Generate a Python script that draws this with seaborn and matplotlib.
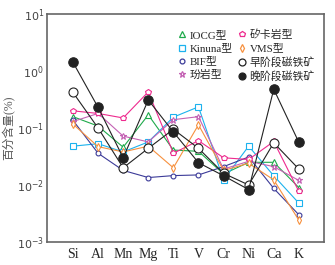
import numpy as np
import pandas as pd
import matplotlib
matplotlib.use("Agg")
import matplotlib.pyplot as plt
from matplotlib.lines import Line2D
import seaborn as sns

# element order on the x axis
elements = ["Si", "Al", "Mn", "Mg", "Ti", "V", "Cr", "Ni", "Ca", "K"]

# contents (%)
iocg = [0.158, 0.108, 0.046, 0.17, 0.041, 0.039, 0.0156, 0.025, 0.025, 0.0090]
kinuna = [0.048, 0.053, 0.038, 0.057, 0.155, 0.235, 0.0123, 0.048, 0.0145, 0.0048]
bif = [0.136, 0.036, 0.018, 0.0135, 0.0146, 0.015, 0.021, 0.031, 0.0087, 0.0030]
porphyrite = [0.13, 0.18, 0.072, 0.057, 0.14, 0.158, 0.019, 0.026, 0.021, 0.012]
skarn = [0.20, 0.18, 0.15, 0.43, 0.036, 0.060, 0.030, 0.028, 0.058, 0.0077]
vms = [0.117, 0.047, 0.038, 0.048, 0.020, 0.114, 0.018, 0.024, 0.0123, 0.0024]
early = [0.42, 0.10, 0.020, 0.044, 0.095, 0.044, 0.016, 0.010, 0.055, 0.019]
late = [1.42, 0.23, 0.030, 0.31, 0.085, 0.0246, 0.0145, 0.0083, 0.48, 0.056]

names = ["IOCG型", "Kinuna型", "BIF型", "玢岩型", "矽卡岩型", "VMS型", "早阶段磁铁矿", "晚阶段磁铁矿"]
values = [iocg, kinuna, bif, porphyrite, skarn, vms, early, late]
colors = ["#1faa4b", "#1cb2ee", "#3b3a98", "#c462b4", "#ee2a8e", "#f7913f", "#222222", "#222222"]
markers = ["^", "s", "o", "*", "p", "d", "o", "o"]
msizes = [4, 3.8, 3.5, 5, 4, 4, 6.5, 6.8]
filled = [False] * 7 + [True]

sns.set_style("white")
plt.rcParams["font.family"] = ["Liberation Serif", "Noto Sans CJK SC"]
plt.rcParams["axes.unicode_minus"] = False

fig = plt.figure(figsize=(3.35, 2.65), dpi=100)
ax = fig.add_axes([0.140, 0.087, 0.827, 0.860])

x = np.arange(len(elements))
for name, vals, c, m, ms, f in zip(names, values, colors, markers, msizes, filled):
    df = pd.DataFrame({"x": x, "y": vals})
    sns.lineplot(data=df, x="x", y="y", ax=ax, color=c, lw=0.8, sort=False,
                 marker=m, markersize=ms, markeredgecolor=c,
                 markerfacecolor=c if f else "white", markeredgewidth=0.8,
                 legend=False)

ax.set_yscale("log")
ax.set_ylim(1e-3, 10)
ax.set_xlim(-1.04, 10.0)
ax.set_xticks(x)
ax.set_xticklabels(elements, fontsize=10)
ax.set_yticks([1e-3, 1e-2, 1e-1, 1, 10])
ax.set_yticklabels([r"$10^{-3}$", r"$10^{-2}$", r"$10^{-1}$", r"$10^{0}$", r"$10^{1}$"],
                   fontsize=8, color="#444444")
ax.minorticks_off()
ax.tick_params(axis="both", direction="in", length=3, width=0.8, color="#555555")
ax.tick_params(axis="y", pad=2)
ax.tick_params(axis="x", pad=4)
ax.set_xlabel("")
ax.set_ylabel("百分含量(%)", fontsize=8.5, color="#555555", labelpad=1)
for sp in ax.spines.values():
    sp.set_color("#666666")
    sp.set_linewidth(1.2)

handles = [Line2D([], [], linestyle="none", marker=m, markersize=ms if ms < 6 else 5,
                  markeredgecolor=c, markerfacecolor=c if f else "white",
                  markeredgewidth=0.9, color=c)
           for c, m, ms, f in zip(colors, markers, msizes, filled)]
ax.legend(handles, names, ncol=2, loc="upper right", bbox_to_anchor=(0.99, 0.96),
          frameon=False, fontsize=7.8, handletextpad=0.3, columnspacing=0.4,
          labelspacing=0.3, handlelength=0.8, borderaxespad=0.2)

fig.savefig("out.png", dpi=100)
